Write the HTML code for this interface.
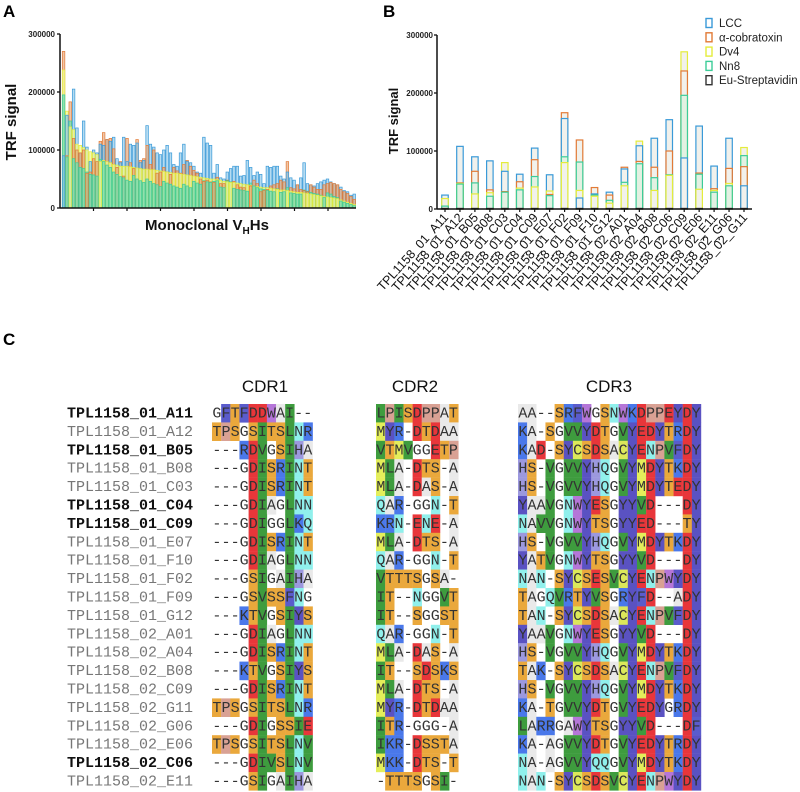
<!DOCTYPE html>
<html><head><meta charset="utf-8"><style>
html,body{margin:0;padding:0;background:#fff;}
svg{display:block;font-family:"Liberation Sans",sans-serif;}
</style></head><body>
<svg id="fig" width="800" height="792" viewBox="0 0 800 792" xmlns="http://www.w3.org/2000/svg">
<text x="3" y="17" font-size="17" font-weight="bold">A</text>
<text x="383" y="17" font-size="17" font-weight="bold">B</text>
<text x="3" y="345" font-size="17" font-weight="bold">C</text>
<g id="chartA"></g>
<g id="chartB"></g>
<g id="align"></g>
</svg>
<script>
// ---------- Panel A data (values in thousands) ----------
const aNn8 = [195,88,150,85,78,70,68,62,58,57,55,84,80,74,70,62,58,54,52,48,46,56,50,47,44,50,46,42,40,37,46,43,41,38,36,34,41,38,35,46,43,41,47,45,44,46,47,36,35,47,45,34,32,31,30,29,43,38,35,33,32,30,29,28,33,27,28,35,26,25,24,24,31,29,27,25,24,22,18,26,24,20,18,12,10,8,6,4];
const aDv4 = [238,167,140,135,110,108,104,100,97,95,92,80,82,80,78,75,74,72,72,72,71,70,69,68,67,67,66,66,65,64,63,62,61,60,60,59,58,57,56,55,54,53,52,51,50,50,49,48,46,45,44,44,43,42,41,40,39,38,37,36,35,35,34,33,32,31,31,30,29,28,27,27,26,25,24,23,22,21,20,19,18,17,16,14,12,10,8,6];
const aCbtx = [270,90,183,120,100,95,100,60,62,85,80,115,130,118,120,102,70,80,55,120,78,68,118,82,85,108,75,100,60,62,70,62,58,70,64,60,75,82,72,65,60,50,46,48,45,44,53,42,42,48,45,46,40,36,35,40,38,48,42,28,30,32,38,40,42,48,45,80,35,33,40,32,30,28,40,36,32,32,40,42,44,42,40,32,28,25,20,15];
const aLcc = [90,160,140,205,138,95,150,105,80,100,95,110,108,118,115,122,85,78,122,80,110,108,112,78,82,142,110,105,95,92,100,108,95,75,72,95,110,80,78,72,62,60,122,112,108,60,75,52,50,62,68,72,72,55,56,82,70,56,62,58,42,72,70,72,72,55,50,62,52,48,40,52,78,42,40,38,42,45,48,50,45,42,40,36,30,28,22,24];
const aTicks = [0,100000,200000,300000];

// ---------- Panel B data (values in thousands) ----------
const bCats = ["TPL1158_01_A11","TPL1158_01_A12","TPL1158_01_B05","TPL1158_01_B08","TPL1158_01_C03","TPL1158_01_C04","TPL1158_01_C09","TPL1158_01_E07","TPL1158_01_F02","TPL1158_01_F09","TPL1158_01_F10","TPL1158_01_G12","TPL1158_02_A01","TPL1158_02_A04","TPL1158_02_B08","TPL1158_02_C06","TPL1158_02_C09","TPL1158_02_E06","TPL1158_02_E11","TPL1158_02_G06","TPL1158_02_G11"];
const bLcc  = [24,108,90,83,65,60,105,59,156,19,26,29,69,109,122,154,88,143,74,122,40];
const bCbtx = [5,45,65,33,30,47,85,25,166,119,37,24,72,82,72,100,238,62,35,70,73];
const bDv4  = [18,44,26,28,80,36,38,31,80,32,22,10,40,117,32,58,271,34,32,44,106];
const bNn8  = [5,43,45,22,29,33,56,23,90,81,24,15,46,78,54,59,196,60,29,40,92];
const bEu   = [1,1,1,1,1,1,1,1,1,1,1,1,1,1,1,1,1,1,1,1,1];
const bTicks = [0,100000,200000,300000];
const legendNames = ["LCC","α-cobratoxin","Dv4","Nn8","Eu-Streptavidin"];

// ---------- Panel C data ----------
const seqNames = ["TPL1158_01_A11","TPL1158_01_A12","TPL1158_01_B05","TPL1158_01_B08","TPL1158_01_C03","TPL1158_01_C04","TPL1158_01_C09","TPL1158_01_E07","TPL1158_01_F10","TPL1158_01_F02","TPL1158_01_F09","TPL1158_01_G12","TPL1158_02_A01","TPL1158_02_A04","TPL1158_02_B08","TPL1158_02_C09","TPL1158_02_G11","TPL1158_02_G06","TPL1158_02_E06","TPL1158_02_C06","TPL1158_02_E11"];
const boldNames = ["TPL1158_01_A11","TPL1158_01_B05","TPL1158_01_C04","TPL1158_01_C09","TPL1158_02_C06"];
const cdr1 = ["GFTFDDWAI--","TPSGSITSLNR","---RDVGSIHA","---GDISRINT","---GDISRINT","---GDIAGLNN","---GDIGGLKQ","---GDISRINT","---GDIAGLNN","---GSIGAIHA","---GSVSSFNG","---KTVGSIYS","---GDIAGLNN","---GDISRINT","---KTVGSIYS","---GDISRINT","TPSGSITSLNR","---GDIGSSIE","TPSGSITSLNV","---GDIVSLNV","---GSIGAIHA"];
const cdr2 = ["LPISDPPAT","MYR-DTDAA","VTMVGGETP","MLA-DTS-A","MLA-DAS-A","QAR-GGN-T","KRN-ENE-A","MLA-DTS-A","QAR-GGN-T","VTTTSGSA-","IT--NGGVT","IT--SGGST","QAR-GGN-T","MLA-DAS-A","IT--SDSKS","MLA-DTS-A","MYR-DTDAA","ITR-GGG-A","IKR-DSSTA","MKK-DTS-T","-TTTSGSI-"];
const cdr3 = ["AA--SRFWGSNWKDPPEYDY","KA-SGVVYDTGVYEDYTRDY","KAD-SYCSDSACYENPVFDY","HS-VGVVYHQGVYMDYTKDY","HS-VGVVYHQGVYMDYTEDY","YAAVGNWYESGYYVD---DY","NAVVGNWYTSGYYED---TY","HS-VGVVYHQGVYMDYTKDY","YATVGNWYTSGYYVD---DY","NAN-SYCSESVCYENPWYDY","TAGQVRTYVSGRYFD--ADY","TAN-SYCSDSACYENPVFDY","YAAVGNWYESGYYVD---DY","HS-VGVVYHQGVYMDYTKDY","TAK-SYCSDSACYENPVFDY","HS-VGVVYHQGVYMDYTKDY","KA-TGVVYDTGVYEDYGRDY","LARRGAWYTSGYYVD---DF","KA-AGVVYDTGVYEDYTRDY","NA-AGVVYQQGVYMDYTKDY","NAN-SYCSDSVCYENPWYDY"];

const NS="http://www.w3.org/2000/svg";
function mk(tag, attrs, parent){const e=document.createElementNS(NS,tag);for(const k in attrs)e.setAttribute(k,attrs[k]);parent.appendChild(e);return e;}
const COL={lcc:"#3a9ad8",cbtx:"#e27a36",dv4:"#e4ec3c",nn8:"#3ccc98",eu:"#333333"};
const FILL={lcc:"rgba(120,190,230,0.55)",cbtx:"rgba(230,160,110,0.6)",dv4:"rgba(240,245,150,0.75)",nn8:"rgba(120,220,175,0.75)",eu:"none"};

// ---------- Panel A ----------
(function(){
  const g=document.getElementById('chartA');
  const x0=60,x1=356,y0=208,yTop=34;
  const n=aLcc.length, step=(x1-x0-2)/n;
  const yS=v=>y0-(v/300000)*(y0-yTop);
  aTicks.forEach(t=>{
    const lab=mk('text',{x:x0-5,y:yS(t)+3,'text-anchor':'end','font-size':8,'font-weight':'bold',fill:'#222'},g);
    lab.textContent=t;
    
    
    mk('line',{x1:x0-3,x2:x0,y1:yS(t),y2:yS(t),stroke:'#111','stroke-width':1.3},g);
  });
  const yt=mk('text',{x:0,y:0,transform:'translate(16,122) rotate(-90)','text-anchor':'middle','font-size':15,'font-weight':'bold',fill:'#111'},g);
  yt.textContent='TRF signal';
  
  
  for(let i=0;i<n;i++){
    const ser=[['lcc',aLcc[i]],['cbtx',aCbtx[i]],['dv4',aDv4[i]],['nn8',aNn8[i]]].sort((a,b)=>b[1]-a[1]);
    const bx=x0+2+i*step;
    ser.forEach(([k,v])=>{
      const yy=yS(v*1000);
      const r=mk('rect',{x:bx+0.3,y:yy,width:step-0.8,height:y0-yy,fill:FILL[k],stroke:COL[k],'stroke-width':0.7},g);
      
      
    });
  }
  mk('line',{x1:x0,x2:x0,y1:yTop,y2:y0,stroke:'#111','stroke-width':1.5},g);
  mk('line',{x1:x0,x2:x1,y1:y0,y2:y0,stroke:'#111','stroke-width':1.5},g);
  for(let i=1;i<=8;i++){const tx=x0+i*33.5;mk('line',{x1:tx,x2:tx,y1:y0,y2:y0+3,stroke:'#111','stroke-width':1.2},g);}
  const xt=mk('text',{x:207,y:230,'text-anchor':'middle','font-size':15,'font-weight':'bold',fill:'#111'},g);
  xt.innerHTML='Monoclonal V<tspan font-size="10" dy="4">H</tspan><tspan dy="-4">Hs</tspan>';
  
  
})();

// ---------- Panel B ----------
(function(){
  const g=document.getElementById('chartB');
  const x0=437,y0=209,yTop=35;
  const first=445,step=14.95,bw=6.5;
  const yS=v=>y0-(v/300000)*(y0-yTop);
  const xS=i=>first+i*step;
  bTicks.forEach(t=>{
    const lab=mk('text',{x:x0-4,y:yS(t)+3,'text-anchor':'end','font-size':8,'font-weight':'bold',fill:'#222'},g);
    lab.textContent=t;
    
    
    mk('line',{x1:x0-3,x2:x0,y1:yS(t),y2:yS(t),stroke:'#111','stroke-width':1.3},g);
  });
  const yt=mk('text',{x:0,y:0,transform:'translate(398,121) rotate(-90)','text-anchor':'middle','font-size':13,'font-weight':'bold',fill:'#111'},g);
  yt.textContent='TRF signal';
  
  
  const fillB={lcc:'#f1f1ec',cbtx:'#f1f1ec',dv4:'#f1f1ec',nn8:'#e3f1e2',eu:'none'};
  bCats.forEach((c,i)=>{
    const ser=[['lcc',bLcc[i]],['cbtx',bCbtx[i]],['dv4',bDv4[i]],['nn8',bNn8[i]],['eu',bEu[i]]].sort((a,b)=>b[1]-a[1]);
    const cx=xS(i);
    ser.forEach(([k,v])=>{
      const yy=yS(v*1000);
      const r=mk('rect',{x:cx-bw/2,y:yy,width:bw,height:y0-yy,fill:fillB[k],stroke:COL[k],'stroke-width':1.2},g);
      
      
    });
    mk('line',{x1:cx,x2:cx,y1:y0,y2:y0+3,stroke:'#111','stroke-width':1.2},g);
    const lab=mk('text',{x:0,y:0,transform:`translate(${cx+4},${y0+9}) rotate(-48)`,'text-anchor':'end','font-size':12.5,fill:'#111'},g);
    lab.textContent=c;
    
    
  });
  mk('line',{x1:x0,x2:x0,y1:yTop,y2:y0,stroke:'#111','stroke-width':1.5},g);
  mk('line',{x1:x0,x2:752,y1:y0,y2:y0,stroke:'#111','stroke-width':1.5},g);
  const keys=['lcc','cbtx','dv4','nn8','eu'];
  legendNames.forEach((nm,i)=>{
    const ly=23+i*14.3;
    const it=mk('g',{},g);
    
    
    mk('rect',{x:706,y:ly-4.5,width:6,height:9,fill:'#fff',stroke:COL[keys[i]],'stroke-width':1.4},it);
    const t=mk('text',{x:719,y:ly+4,'font-size':11.5,fill:'#222'},it);
    t.textContent=nm;
  });
})();

// ---------- Panel C ----------
(function(){
  const g=document.getElementById('align');
  const RC={A:'#e9e9e9',S:'#eaa83c',T:'#eaa83c',D:'#e8363a',E:'#e8363a',K:'#4a78ea',R:'#4a78ea',I:'#3e9c3e',L:'#3e9c3e',V:'#3e9c3e',M:'#e4ee5a',C:'#dce85a',N:'#90f0ec',Q:'#90f0ec',Y:'#5a52c2',F:'#5a5ccc',W:'#b576d8',H:'#9c98de',P:'#d9a194'};
  const top=404,rh=18.4,cw=9.15;
  const blocks=[[cdr1,212,'CDR1',265],[cdr2,376,'CDR2',415],[cdr3,518,'CDR3',609]];
  blocks.forEach(([arr,bx,title,tx])=>{
    const h=mk('text',{x:tx,y:392,'text-anchor':'middle','font-size':17,fill:'#111'},g);
    h.textContent=title;
    
    
  });
  seqNames.forEach((nm,r)=>{
    const y=top+r*rh;
    const bold=boldNames.includes(nm);
    const t=mk('text',{x:67,y:y+13.5,'font-family':'Liberation Mono, monospace','font-size':15,'font-weight':bold?'bold':'normal',fill:bold?'#111':'#777'},g);
    t.textContent=nm;
    
    
    blocks.forEach(([arr,bx])=>{
      const s=arr[r];
      const row=mk('g',{},g);
      
      
      for(let j=0;j<s.length;j++){
        const ch=s[j];const cx=bx+j*cw;
        if(RC[ch])mk('rect',{x:cx,y:y,width:cw+0.2,height:rh+0.2,fill:RC[ch]},row);
      }
      const tt=mk('text',{x:bx+0.4,y:y+13.5,'font-family':'Liberation Mono, monospace','font-size':15,fill:'#333',textLength:s.length*cw-0.8,lengthAdjust:'spacing'},row);
      tt.textContent=s;
    });
  });
})();
</script>
</body></html>
